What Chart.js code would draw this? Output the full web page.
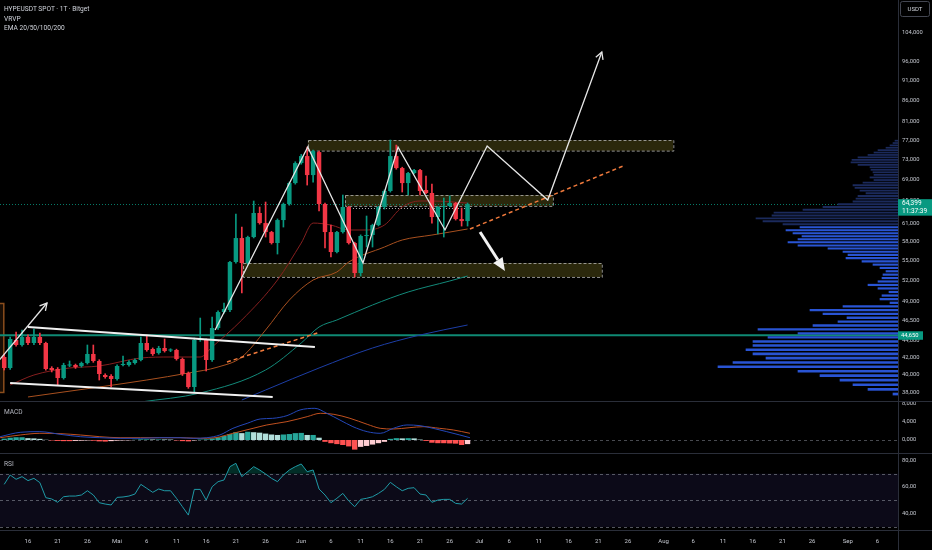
<!DOCTYPE html>
<html>
<head>
<meta charset="utf-8">
<script src="https://cdn.jsdelivr.net/npm/chart.js@4.4.1/dist/chart.umd.min.js"></script>
<style>
  html, body { margin: 0; padding: 0; background: #000; overflow: hidden; }
  #wrap { position: relative; width: 932px; height: 550px; background: #000; }
  canvas { position: absolute; left: 0; }
  .lbl { position: absolute; left: 4px; font: 6.6px Roboto, "Noto Sans", sans-serif; color: #d1d4dc; white-space: nowrap; line-height: 8px; }
  .pane-lbl { color: #b2b5be; }
</style>
</head>
<body>
<div id="wrap">
  <canvas id="main" width="932" height="402" style="top:0"></canvas>
  <canvas id="macd" width="932" height="52" style="top:402px"></canvas>
  <canvas id="rsi" width="932" height="96" style="top:454px"></canvas>
  <div class="lbl" style="top:5px">HYPEUSDT SPOT · 1T · Bitget</div>
  <div class="lbl" style="top:15px">VRVP</div>
  <div class="lbl" style="top:24px">EMA 20/50/100/200</div>
  <div class="lbl pane-lbl" style="top:408px">MACD</div>
  <div class="lbl pane-lbl" style="top:460px">RSI</div>
</div>
<script>
// day index = days since 1 Apr 2025 (daily candles)
const candleDays = [11,12,13,14,15,16,17,18,19,20,21,22,23,24,25,26,27,28,29,30,
  31,32,33,34,35,36,37,38,39,40,41,42,43,44,45,46,47,48,49,50,
  51,52,53,54,55,56,57,58,59,60,61,62,63,64,65,66,67,68,69,70,
  71,72,73,74,75,76,77,78,79,80,81,82,83,84,85,86,87,88,89];

const open = [42.020,40.749,44.063,43.452,44.434,43.695,44.434,43.695,40.749,40.635,
  39.626,41.035,41.092,40.978,41.322,42.374,41.554,39.959,39.848,39.515,
  41.092,41.092,41.322,41.670,43.695,42.970,42.492,43.090,42.791,42.850,
  41.786,40.183,38.642,44.063,44.063,41.670,45.565,47.644,47.911,54.786,
  58.584,54.633,58.748,62.826,61.088,59.571,57.771,61.602,64.423,68.306,
  72.231,73.657,69.850,74.484,64.423,59.571,56.337,59.571,63.885,57.771,
  53.128,58.912,59.077,60.747,63.885,66.806,73.657,71.229,68.306,70.242,
  70.833,66.993,66.434,62.120,63.885,64.065,64.603,61.774,61.428];
const high = [42.374,44.434,45.059,45.311,44.700,45.438,44.933,43.800,40.900,40.800,
  41.300,41.554,41.200,41.438,43.452,43.452,41.700,40.100,40.000,41.100,
  42.138,41.600,41.800,44.434,44.683,43.100,43.300,44.186,43.000,42.950,
  41.900,40.300,44.310,46.853,44.200,46.984,47.800,48.857,54.900,62.651,
  60.409,58.900,64.965,63.885,64.784,59.700,61.800,64.600,68.500,72.500,
  74.000,75.532,74.900,74.700,64.600,60.747,59.700,66.063,64.000,57.900,
  59.100,62.302,60.900,64.000,67.000,77.023,75.955,71.400,70.400,71.000,
  71.000,69.656,68.116,64.000,65.512,65.900,64.700,63.707,64.600];
const low = [40.522,40.600,43.300,43.300,43.500,43.500,43.500,40.500,40.300,38.859,
  39.500,40.900,40.700,40.850,41.200,41.400,39.405,39.600,38.642,39.400,
  41.000,40.950,41.200,41.550,42.700,42.200,42.350,42.600,42.650,41.650,
  39.900,38.500,38.106,43.900,40.408,41.500,45.400,47.500,47.700,54.600,
  50.241,54.400,58.600,60.900,58.748,57.600,56.023,60.409,64.200,68.100,
  72.000,67.926,68.500,63.177,56.970,55.556,56.200,59.400,57.600,52.537,
  52.684,57.129,57.129,60.600,63.529,66.600,71.000,66.619,66.063,70.100,
  66.063,66.300,61.088,59.250,58.748,63.900,61.600,60.577,60.577];
const close = [40.749,44.186,43.452,44.434,43.695,44.434,43.695,40.635,40.522,39.626,
  41.092,41.092,40.863,41.322,42.374,41.554,40.071,39.735,39.515,40.978,
  41.207,41.438,41.670,43.695,42.850,42.374,43.090,42.731,42.850,41.786,
  40.071,38.642,44.063,44.186,41.670,45.565,47.644,48.045,54.786,58.584,
  54.633,58.748,62.826,61.088,59.571,57.771,61.602,64.423,68.306,72.231,
  73.657,69.850,74.693,64.423,59.571,56.337,59.571,63.885,57.771,53.128,
  58.912,59.077,60.747,63.885,66.806,73.657,71.229,68.306,70.242,70.833,
  66.806,66.434,62.120,63.885,64.065,64.603,61.774,61.428,64.399];

// EMA 20/50/100/200 at sample days
const ema20Days = [12,16,22,27,34,39,44,46,51,57,61,63,66,69,72,75,78,81,83,89];
const ema20 = [38.859,39.959,40.749,40.978,41.903,42.020,42.020,43.211,46.596,52.102,
  57.771,61.088,60.747,59.915,59.915,60.747,63.885,64.969,64.969,64.603];
const ema50Days = [15,27,35,42,47,51,55,59,63,67,69,75,78,83,86,89];
const ema50 = [37.580,38.642,39.405,40.183,40.863,42.020,45.311,49.271,52.102,53.281,
  54.786,57.129,58.262,59.077,59.571,60.082];
const ema100Days = [34,44,55,61,64,67,73,79,86,89];
const ema100 = [37.057,38.000,40.522,43.695,45.692,46.596,48.591,50.388,51.960,52.684];
const ema200Days = [51,55,64,73,81,89];
const ema200 = [37.264,38.320,40.749,43.090,44.683,45.950];

// MACD (12,26,9)
const macdDays = [10.3,13.7,17,20.4,23.8,27.1,30.5,33.9,37.2,40.6,42.8,45.1,47.3,49.5,51.9,54.1,
  56.2,58.6,60.8,63.3,65.3,67.5,69.7,72.1,74.3,76.5,78.8,81,83.2,85.5,87.7,89.4];
const macdLine = [0.721,1.680,1.822,1.240,0.721,0.500,0.365,0.365,0.500,0.500,0.365,0.500,1.093,2.550,3.640,4.590,
  4.735,5.320,6.560,6.920,5.830,4.370,2.910,1.820,1.460,2.550,3.280,3.130,2.550,1.820,1.093,0.500];
const signalDays = [10.3,13.7,17,20.4,23.8,27.1,30.5,33.9,37.2,40.6,44,46.5,49.5,52.9,55.2,58.6,
  62,64.2,66.5,69.2,72.1,74.3,76.5,79.3,81.5,84.3,86.6,89.4];
const signalLine = [0.500,1.093,1.460,1.390,1.093,0.721,0.500,0.500,0.500,0.500,0.365,0.500,1.460,2.550,3.280,4.010,
  5.100,5.830,5.610,4.740,3.430,2.550,2.400,2.700,2.910,2.550,2.190,1.460];
const macdHist = [0.30,0.50,0.60,0.60,0.40,0.35,0.25,0.05,-0.10,-0.20,
  -0.25,-0.25,-0.20,-0.15,-0.10,-0.15,-0.30,-0.35,-0.25,-0.15,
  -0.10,-0.08,0.05,0.15,0.15,0.12,0.13,0.12,0.10,-0.10,
  -0.25,-0.30,-0.10,0.10,0.15,0.35,0.60,0.90,1.30,1.70,
  1.50,1.80,1.70,1.60,1.40,1.20,1.10,1.20,1.30,1.50,
  1.55,1.10,1.10,0.50,-0.40,-0.70,-0.90,-1.10,-1.40,-2.10,
  -1.50,-1.30,-1.00,-0.70,-0.40,0.25,0.40,0.35,0.40,0.35,
  0.10,-0.20,-0.60,-0.70,-0.70,-0.75,-0.80,-1.10,-0.90];

// RSI 14
const rsi = [62.0,69.0,65.8,67.8,64.8,66.5,63.3,52.0,51.0,48.5,
  52.7,53.2,53.2,54.0,57.2,54.0,48.2,47.2,46.5,52.2,
  52.5,53.2,54.7,62.0,59.0,56.0,58.5,57.2,57.2,51.5,
  45.2,38.9,58.2,58.2,50.2,60.2,64.0,65.3,75.3,77.8,
  67.8,71.5,75.3,72.8,69.8,66.5,64.0,69.0,72.8,75.3,
  77.3,71.5,72.8,58.5,54.0,48.2,51.5,55.2,49.5,45.2,
  50.7,51.5,52.7,55.2,58.2,63.5,60.2,57.2,59.0,59.5,
  54.7,54.0,48.5,50.2,50.7,50.7,47.7,47.2,51.5];

// visible range volume profile (rows by price, relative volume)
const profilePrices = [38.0,38.5,39.0,39.5,40.0,40.5,41.0,41.5,42.0,42.5,43.0,43.5,44.0,44.5,45.0,45.5,
  46.0,46.5,47.0,47.5,48.0,48.5,49.0,49.5,50.0,50.5,51.0,51.5,52.0,52.5,53.0,53.5,
  54.0,54.5,55.0,55.5,56.0,56.5,57.0,57.5,58.0,58.5,59.0,59.5,60.0,60.5,61.0,61.5,
  62.0,62.5,63.0,63.5,64.0,64.5,65.0,65.5,66.0,66.5,67.0,67.5,68.0,68.5,69.0,69.5,
  70.0,70.5,71.0,71.5,72.0,72.5,73.0,73.5,74.0,74.5,75.0,75.5,76.0,76.5,77.0];
const profileVolume = [5,30,45,58,78,100,180,165,132,145,152,145,145,130,100,140,
  85,60,51,75,88,55,8,18,16,9,20,30,20,16,15,12,
  18,25,36,52,50,55,70,100,110,100,96,105,112,98,115,135,
  142,126,124,95,75,60,45,42,40,32,38,43,45,35,24,28,
  24,25,27,28,40,47,46,40,30,24,20,12,8,5,3];
const valueAreaHigh = 60.75;

// drawings: [day, price]
const zigzagDays = [46.5,62.1,71.4,77.3,85.2,92.3,102.5,111.6];
const zigzagPrices = [45.311,75.532,54.633,75.532,59.915,75.757,65.147,98.504];
const leftArrowDays = [10.2,18.2];
const leftArrowPrices = [41.670,48.857];
const downArrowDays = [91.1,95.3];
const downArrowPrices = [59.571,53.432];
const channelTopDays = [15,63.3];
const channelTopPrices = [45.692,43.211];
const channelBottomDays = [12,56.2];
const channelBottomPrices = [39.076,37.578];
const trendADays = [48.5,63.7];
const trendAPrices = [41.438,44.933];
const trendBDays = [89.4,115.2];
const trendBPrices = [60.082,71.641];
const zoneFrom = [62.1,68.4,51.2,9.0];
const zoneTo = [123.6,103.4,111.6,10.9];
const zoneTop = [77.0,66.06,54.63,48.86];
const zoneBottom = [74.75,64.07,52.54,38.11];
const dottedLevel = 63.707, dottedFrom = 68.7, dottedTo = 89.8;
const levelPrice = 44.650;
const lastPrice = 64.399;
const countdown = '11:37:39';

const priceTicks = [104,96,91,86,81,77,73,69,65,61,58,55,52,49,46.5,44,42,40,38];
const macdTicks = [8,4,0];
const rsiTicks = [80,60,40];
const monthNames = ['Jan','Feb','Mär','Apr','Mai','Jun','Jul','Aug','Sep','Okt','Nov','Dez'];

// ---- helpers ----
const X_MIN = 10.29, X_MAX = 161.46;
const AXIS_W = 34;
const UP = '#089981', DOWN = '#f23645';
const AXIS_TXT = '#c3c6ce', SEP = '#2a2e39';
const FONT = 'Roboto, "Noto Sans", sans-serif';
Chart.defaults.font.family = FONT;

const toPts = (xs, ys) => xs.map((x, i) => ({x, y: ys[i]}));
const fmt = (v, n) => v.toFixed(n).replace('.', ',');
const dateOf = d => new Date(2025, 3, 1 + d);
const candleColor = c => close[c.dataIndex] >= open[c.dataIndex] ? UP : DOWN;
const noPad = s => { s.paddingTop = 0; s.paddingBottom = 0; s.paddingLeft = 0; s.paddingRight = 0; };

function rightAxis(min, max, ticks, digits, type) {
  return {
    type: type || 'linear', position: 'right', min, max,
    grid: { display: false, drawTicks: false }, border: { display: false },
    afterBuildTicks: s => { s.ticks = ticks.map(v => ({value: v})); },
    afterFit: s => { s.width = AXIS_W; noPad(s); },
    ticks: { autoSkip: false, padding: 4, color: AXIS_TXT, font: { size: 5.8 },
      callback: v => fmt(v, digits) }
  };
}

function hiddenX() {
  return { type: 'linear', min: X_MIN, max: X_MAX, offset: false, display: false };
}

function line(data, color, width, extra) {
  return Object.assign({ type: 'line', data, borderColor: color, borderWidth: width,
    pointRadius: 0, fill: false, tension: 0 }, extra || {});
}

function arrowHead(ctx, x0, y0, x1, y1, len) {
  const a = Math.atan2(y1 - y0, x1 - x0);
  ctx.beginPath();
  ctx.moveTo(x1 - len * Math.cos(a - 0.5), y1 - len * Math.sin(a - 0.5));
  ctx.lineTo(x1, y1);
  ctx.lineTo(x1 - len * Math.cos(a + 0.5), y1 - len * Math.sin(a + 0.5));
  ctx.stroke();
}

function separators(chart, yLine) {
  const {ctx, chartArea: a} = chart;
  ctx.save();
  ctx.strokeStyle = SEP; ctx.lineWidth = 1;
  ctx.beginPath();
  ctx.moveTo(a.right + 0.5, 0); ctx.lineTo(a.right + 0.5, chart.height);
  ctx.moveTo(0, yLine); ctx.lineTo(chart.width, yLine);
  ctx.stroke();
  ctx.restore();
}

// ---- main price pane ----
const mainPlugin = {
  id: 'mainDrawings',
  beforeDatasetsDraw(chart) {
    const {ctx, chartArea: a, scales: {x, y}} = chart;
    ctx.save();
    ctx.beginPath(); ctx.rect(a.left, a.top, a.right - a.left, a.bottom - a.top); ctx.clip();
    zoneFrom.forEach((f, i) => {
      const x0 = x.getPixelForValue(f), x1 = x.getPixelForValue(zoneTo[i]);
      const y0 = y.getPixelForValue(zoneTop[i]), y1 = y.getPixelForValue(zoneBottom[i]);
      const last = i === zoneFrom.length - 1;
      ctx.fillStyle = last ? 'rgba(140,80,25,0.18)' : 'rgba(78,72,22,0.55)';
      ctx.fillRect(x0, y0, x1 - x0, y1 - y0);
      ctx.strokeStyle = last ? '#8a4d1c' : 'rgba(190,190,190,0.75)';
      ctx.setLineDash(last ? [] : [3, 2]);
      ctx.lineWidth = last ? 1.5 : 1;
      ctx.strokeRect(Math.round(x0) + 0.5, Math.round(y0) + 0.5, x1 - x0, y1 - y0);
    });
    ctx.setLineDash([]);
    // horizontal level
    const yl = y.getPixelForValue(levelPrice);
    ctx.strokeStyle = '#0f8a74'; ctx.lineWidth = 2;
    ctx.beginPath(); ctx.moveTo(a.left, yl); ctx.lineTo(a.right, yl); ctx.stroke();
    // last price dotted line
    const yp = Math.round(y.getPixelForValue(lastPrice)) + 0.5;
    ctx.strokeStyle = 'rgba(8,153,129,0.8)'; ctx.lineWidth = 1; ctx.setLineDash([1, 2]);
    ctx.beginPath(); ctx.moveTo(a.left, yp); ctx.lineTo(a.right, yp); ctx.stroke();
    // white dotted level
    const yd = Math.round(y.getPixelForValue(dottedLevel)) + 0.5;
    ctx.strokeStyle = 'rgba(220,220,220,0.8)';
    ctx.beginPath(); ctx.moveTo(x.getPixelForValue(dottedFrom), yd); ctx.lineTo(x.getPixelForValue(dottedTo), yd); ctx.stroke();
    ctx.restore();
  },
  afterDatasetsDraw(chart) {
    const {ctx, chartArea: a, scales: {x, y}} = chart;
    ctx.save();
    ctx.beginPath(); ctx.rect(a.left, a.top, a.right - a.left, a.bottom - a.top); ctx.clip();
    ctx.strokeStyle = '#e6e6e6'; ctx.lineWidth = 1.3;
    const n = zigzagDays.length;
    arrowHead(ctx, x.getPixelForValue(zigzagDays[n - 2]), y.getPixelForValue(zigzagPrices[n - 2]),
      x.getPixelForValue(zigzagDays[n - 1]), y.getPixelForValue(zigzagPrices[n - 1]), 8);
    arrowHead(ctx, x.getPixelForValue(leftArrowDays[0]), y.getPixelForValue(leftArrowPrices[0]),
      x.getPixelForValue(leftArrowDays[1]), y.getPixelForValue(leftArrowPrices[1]), 8);
    // thick down arrow
    const x0 = x.getPixelForValue(downArrowDays[0]), y0 = y.getPixelForValue(downArrowPrices[0]);
    const x1 = x.getPixelForValue(downArrowDays[1]), y1 = y.getPixelForValue(downArrowPrices[1]);
    const ang = Math.atan2(y1 - y0, x1 - x0), hl = 13, hw = 5.5;
    const bx = x1 - hl * Math.cos(ang), by = y1 - hl * Math.sin(ang);
    ctx.strokeStyle = '#f2f2f2'; ctx.fillStyle = '#f2f2f2'; ctx.lineWidth = 3;
    ctx.beginPath(); ctx.moveTo(x0, y0); ctx.lineTo(bx, by); ctx.stroke();
    ctx.beginPath();
    ctx.moveTo(x1, y1);
    ctx.lineTo(bx + hw * Math.sin(ang), by - hw * Math.cos(ang));
    ctx.lineTo(bx - hw * Math.sin(ang), by + hw * Math.cos(ang));
    ctx.closePath(); ctx.fill();
    ctx.restore();
  },
  afterDraw(chart) {
    const {ctx, chartArea: a, scales: {y}} = chart;
    separators(chart, chart.height - 0.5);
    ctx.save();
    ctx.textBaseline = 'middle';
    // USDT label
    ctx.strokeStyle = '#434651'; ctx.lineWidth = 1;
    ctx.beginPath(); ctx.roundRect(a.right + 2.5, 1.5, 29, 15, 2); ctx.stroke();
    ctx.fillStyle = '#d1d4dc'; ctx.font = '6px ' + FONT; ctx.textAlign = 'center';
    ctx.fillText('USDT', a.right + 17, 9.5);
    ctx.textAlign = 'left';
    // level badge
    const yl = y.getPixelForValue(levelPrice);
    ctx.fillStyle = UP; ctx.fillRect(a.right, yl - 4, 25, 8.5);
    ctx.fillStyle = '#ffffff'; ctx.font = '5.8px ' + FONT;
    ctx.fillText(fmt(levelPrice, 3), a.right + 3, yl + 0.3);
    // last price badge
    const yp = y.getPixelForValue(lastPrice);
    ctx.fillStyle = UP; ctx.fillRect(a.right, yp - 5, AXIS_W, 16.5);
    ctx.fillStyle = '#ffffff'; ctx.font = '6.5px ' + FONT;
    ctx.fillText(fmt(lastPrice, 3), a.right + 4, yp - 0.6);
    ctx.fillText(countdown, a.right + 4, yp + 6.8);
    ctx.restore();
  }
};

new Chart(document.getElementById('main'), {
  type: 'bar',
  data: {
    datasets: [
      line(toPts(zigzagDays, zigzagPrices), '#e6e6e6', 1.3),
      line(toPts(leftArrowDays, leftArrowPrices), '#e6e6e6', 1.3),
      line(toPts(channelTopDays, channelTopPrices), '#f0f0f0', 2.2),
      line(toPts(channelBottomDays, channelBottomPrices), '#f0f0f0', 2.2),
      line(toPts(trendADays, trendAPrices), '#f07a3c', 1.5, { borderDash: [4, 3] }),
      line(toPts(trendBDays, trendBPrices), '#f07a3c', 1.5, { borderDash: [4, 3] }),
      { type: 'bar', data: candleDays.map((d, i) => ({x: d, y: [open[i], close[i]]})),
        backgroundColor: candleColor, grouped: false, barPercentage: 0.75, categoryPercentage: 1,
        minBarLength: 1 },
      { type: 'bar', data: candleDays.map((d, i) => ({x: d, y: [low[i], high[i]]})),
        backgroundColor: candleColor, grouped: false, barThickness: 1, barPercentage: 1 },
      line(toPts(ema20Days, ema20), '#861f1f', 1, { cubicInterpolationMode: 'monotone' }),
      line(toPts(ema50Days, ema50), '#a8501f', 1, { cubicInterpolationMode: 'monotone' }),
      line(toPts(ema100Days, ema100), '#138a7a', 1, { cubicInterpolationMode: 'monotone' }),
      line(toPts(ema200Days, ema200), '#1d3ea6', 1, { cubicInterpolationMode: 'monotone' }),
      { type: 'bar', indexAxis: 'y', xAxisID: 'xv', yAxisID: 'y',
        data: profilePrices.map((p, i) => ({x: profileVolume[i], y: p})),
        backgroundColor: c => profilePrices[c.dataIndex] <= valueAreaHigh ? '#2954d4' : '#1b2a5c',
        barThickness: 'flex', categoryPercentage: 0.88, barPercentage: 1 }
    ]
  },
  options: {
    responsive: false, animation: false, events: [],
    layout: { padding: 0 },
    plugins: { legend: { display: false }, tooltip: { enabled: false } },
    scales: {
      x: hiddenX(),
      xv: { type: 'linear', min: 0, max: 898, reverse: true, offset: false, display: false },
      y: rightAxis(37.057, 113.905, priceTicks, 3, 'logarithmic')
    }
  },
  plugins: [mainPlugin]
});

// ---- MACD pane ----
const histColor = c => {
  const i = c.dataIndex, v = macdHist[i], p = i > 0 ? macdHist[i - 1] : v;
  if (v >= 0) return v >= p ? '#26a69a' : '#b2dfdb';
  return v <= p ? '#ff5252' : '#ffcdd2';
};

new Chart(document.getElementById('macd'), {
  type: 'bar',
  data: {
    datasets: [
      line(toPts(macdDays, macdLine), '#2447b8', 1, { cubicInterpolationMode: 'monotone' }),
      line(toPts(signalDays, signalLine), '#c0501f', 1, { cubicInterpolationMode: 'monotone' }),
      { type: 'bar', data: toPts(candleDays, macdHist), backgroundColor: histColor,
        grouped: false, barPercentage: 0.9, categoryPercentage: 1 }
    ]
  },
  options: {
    responsive: false, animation: false, events: [],
    layout: { padding: 0 },
    plugins: { legend: { display: false }, tooltip: { enabled: false } },
    scales: { x: hiddenX(), y: rightAxis(-3.06, 8.3, macdTicks, 3) }
  },
  plugins: [{
    id: 'macdDeco',
    beforeDatasetsDraw(chart) {
      const {ctx, chartArea: a, scales: {y}} = chart;
      const y0 = Math.round(y.getPixelForValue(0)) + 0.5;
      ctx.save();
      ctx.strokeStyle = 'rgba(120,123,134,0.6)'; ctx.setLineDash([3, 3]); ctx.lineWidth = 1;
      ctx.beginPath(); ctx.moveTo(a.left, y0); ctx.lineTo(a.right, y0); ctx.stroke();
      ctx.restore();
    },
    afterDraw(chart) { separators(chart, chart.height - 0.5); }
  }]
});

// ---- RSI pane ----
new Chart(document.getElementById('rsi'), {
  type: 'line',
  data: {
    datasets: [
      line(toPts(candleDays, rsi), '#1f9aa6', 1,
        { fill: { target: { value: 70 }, above: 'rgba(8,153,129,0.3)', below: 'rgba(0,0,0,0)' } })
    ]
  },
  options: {
    responsive: false, animation: false, events: [],
    layout: { padding: 0 },
    plugins: { legend: { display: false }, tooltip: { enabled: false } },
    scales: {
      x: {
        type: 'linear', min: X_MIN, max: X_MAX, position: 'bottom',
        grid: { display: false, drawTicks: false }, border: { display: false },
        afterBuildTicks: s => {
          const out = [];
          for (let d = Math.ceil(s.min); d <= s.max; d++) {
            if ([1, 6, 11, 16, 21, 26].includes(dateOf(d).getDate())) out.push({value: d});
          }
          s.ticks = out;
        },
        afterFit: s => { s.height = 20; noPad(s); },
        ticks: { autoSkip: false, maxRotation: 0, padding: 8, color: AXIS_TXT, font: { size: 6 },
          callback: v => { const dt = dateOf(v); return dt.getDate() === 1 ? monthNames[dt.getMonth()] : String(dt.getDate()); } }
      },
      y: rightAxis(27.7, 84.8, rsiTicks, 2)
    }
  },
  plugins: [{
    id: 'rsiDeco',
    beforeDatasetsDraw(chart) {
      const {ctx, chartArea: a, scales: {y}} = chart;
      const y70 = y.getPixelForValue(70), y30 = y.getPixelForValue(30), y50 = y.getPixelForValue(50);
      ctx.save();
      ctx.fillStyle = 'rgba(100,80,200,0.12)';
      ctx.fillRect(a.left, y70, a.right - a.left, y30 - y70);
      ctx.strokeStyle = 'rgba(120,123,134,0.7)'; ctx.setLineDash([3, 3]); ctx.lineWidth = 1;
      ctx.beginPath();
      [y70, y50, y30].forEach(v => { const r = Math.round(v) + 0.5; ctx.moveTo(a.left, r); ctx.lineTo(a.right, r); });
      ctx.stroke();
      ctx.restore();
    },
    afterDraw(chart) { separators(chart, chart.chartArea.bottom + 0.5); }
  }]
});
</script>
</body>
</html>
